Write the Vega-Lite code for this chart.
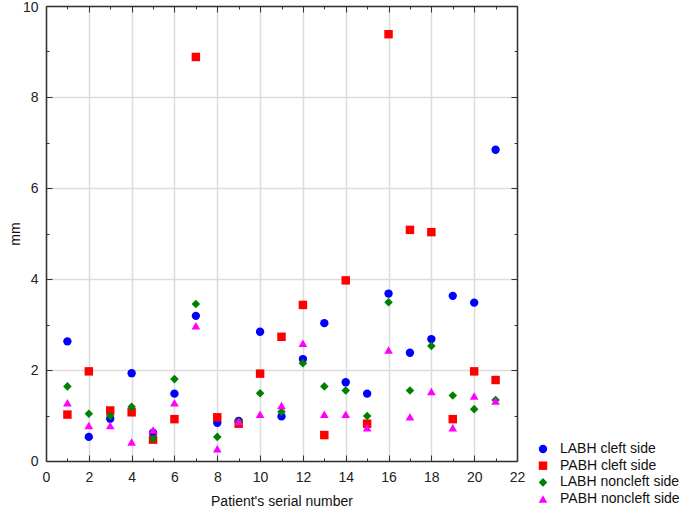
{
  "$schema": "https://vega.github.io/schema/vega-lite/v6.json",
  "width": 471,
  "height": 455,
  "autosize": {"type": "none"},
  "padding": {"left": 46, "top": 6, "right": 168, "bottom": 47},
  "background": "white",
  "config": {
    "view": {"stroke": null},
    "font": "Liberation Sans",
    "axis": {"labelFont": "Liberation Sans", "titleFont": "Liberation Sans", "labelFontSize": 14, "titleFontSize": 14, "titleFontWeight": "normal", "labelColor": "#222", "titleColor": "#111", "domainColor": "#333", "domainWidth": 1.5, "tickColor": "#333", "gridColor": "#dcdcdc", "gridWidth": 1.5}
  },
  "data": {"values": [
    {"n":1,"v":2.63,"s":"LABH cleft side"},{"n":2,"v":0.53,"s":"LABH cleft side"},{"n":3,"v":0.93,"s":"LABH cleft side"},{"n":4,"v":1.93,"s":"LABH cleft side"},{"n":5,"v":0.62,"s":"LABH cleft side"},{"n":6,"v":1.48,"s":"LABH cleft side"},{"n":7,"v":3.19,"s":"LABH cleft side"},{"n":8,"v":0.84,"s":"LABH cleft side"},{"n":9,"v":0.88,"s":"LABH cleft side"},{"n":10,"v":2.84,"s":"LABH cleft side"},{"n":11,"v":0.98,"s":"LABH cleft side"},{"n":12,"v":2.24,"s":"LABH cleft side"},{"n":13,"v":3.03,"s":"LABH cleft side"},{"n":14,"v":1.73,"s":"LABH cleft side"},{"n":15,"v":1.48,"s":"LABH cleft side"},{"n":16,"v":3.68,"s":"LABH cleft side"},{"n":17,"v":2.38,"s":"LABH cleft side"},{"n":18,"v":2.68,"s":"LABH cleft side"},{"n":19,"v":3.63,"s":"LABH cleft side"},{"n":20,"v":3.48,"s":"LABH cleft side"},{"n":21,"v":6.84,"s":"LABH cleft side"},
    {"n":1,"v":1.02,"s":"PABH cleft side"},{"n":2,"v":1.97,"s":"PABH cleft side"},{"n":3,"v":1.11,"s":"PABH cleft side"},{"n":4,"v":1.07,"s":"PABH cleft side"},{"n":5,"v":0.47,"s":"PABH cleft side"},{"n":6,"v":0.92,"s":"PABH cleft side"},{"n":7,"v":8.88,"s":"PABH cleft side"},{"n":8,"v":0.96,"s":"PABH cleft side"},{"n":9,"v":0.82,"s":"PABH cleft side"},{"n":10,"v":1.92,"s":"PABH cleft side"},{"n":11,"v":2.73,"s":"PABH cleft side"},{"n":12,"v":3.43,"s":"PABH cleft side"},{"n":13,"v":0.57,"s":"PABH cleft side"},{"n":14,"v":3.97,"s":"PABH cleft side"},{"n":15,"v":0.82,"s":"PABH cleft side"},{"n":16,"v":9.38,"s":"PABH cleft side"},{"n":17,"v":5.08,"s":"PABH cleft side"},{"n":18,"v":5.03,"s":"PABH cleft side"},{"n":19,"v":0.92,"s":"PABH cleft side"},{"n":20,"v":1.97,"s":"PABH cleft side"},{"n":21,"v":1.78,"s":"PABH cleft side"},
    {"n":1,"v":1.64,"s":"LABH noncleft side"},{"n":2,"v":1.04,"s":"LABH noncleft side"},{"n":3,"v":0.99,"s":"LABH noncleft side"},{"n":4,"v":1.19,"s":"LABH noncleft side"},{"n":5,"v":0.49,"s":"LABH noncleft side"},{"n":6,"v":1.8,"s":"LABH noncleft side"},{"n":7,"v":3.45,"s":"LABH noncleft side"},{"n":8,"v":0.53,"s":"LABH noncleft side"},{"n":9,"v":0.86,"s":"LABH noncleft side"},{"n":10,"v":1.49,"s":"LABH noncleft side"},{"n":11,"v":1.08,"s":"LABH noncleft side"},{"n":12,"v":2.15,"s":"LABH noncleft side"},{"n":13,"v":1.64,"s":"LABH noncleft side"},{"n":14,"v":1.55,"s":"LABH noncleft side"},{"n":15,"v":0.99,"s":"LABH noncleft side"},{"n":16,"v":3.49,"s":"LABH noncleft side"},{"n":17,"v":1.55,"s":"LABH noncleft side"},{"n":18,"v":2.53,"s":"LABH noncleft side"},{"n":19,"v":1.44,"s":"LABH noncleft side"},{"n":20,"v":1.14,"s":"LABH noncleft side"},{"n":21,"v":1.34,"s":"LABH noncleft side"},
    {"n":1,"v":1.28,"s":"PABH noncleft side"},{"n":2,"v":0.78,"s":"PABH noncleft side"},{"n":3,"v":0.78,"s":"PABH noncleft side"},{"n":4,"v":0.42,"s":"PABH noncleft side"},{"n":5,"v":0.68,"s":"PABH noncleft side"},{"n":6,"v":1.28,"s":"PABH noncleft side"},{"n":7,"v":2.97,"s":"PABH noncleft side"},{"n":8,"v":0.27,"s":"PABH noncleft side"},{"n":9,"v":0.87,"s":"PABH noncleft side"},{"n":10,"v":1.03,"s":"PABH noncleft side"},{"n":11,"v":1.22,"s":"PABH noncleft side"},{"n":12,"v":2.59,"s":"PABH noncleft side"},{"n":13,"v":1.03,"s":"PABH noncleft side"},{"n":14,"v":1.03,"s":"PABH noncleft side"},{"n":15,"v":0.73,"s":"PABH noncleft side"},{"n":16,"v":2.44,"s":"PABH noncleft side"},{"n":17,"v":0.97,"s":"PABH noncleft side"},{"n":18,"v":1.53,"s":"PABH noncleft side"},{"n":19,"v":0.73,"s":"PABH noncleft side"},{"n":20,"v":1.43,"s":"PABH noncleft side"},{"n":21,"v":1.32,"s":"PABH noncleft side"}
  ]},
  "layer": [
    {
      "mark": {"type": "point", "filled": true, "opacity": 1},
      "encoding": {
        "x": {"field": "n", "type": "quantitative", "title": "Patient's serial number",
          "scale": {"domain": [0, 22], "nice": false},
          "axis": {"orient": "bottom", "values": [0,1,2,3,4,5,6,7,8,9,10,11,12,13,14,15,16,17,18,19,20,21,22],
            "labelExpr": "datum.value % 2 === 0 ? datum.label : ''",
            "gridOpacity": {"condition": {"test": "datum.value % 2 === 0", "value": 1}, "value": 0},
            "tickSize": {"condition": {"test": "datum.value % 2 === 0", "value": -6}, "value": -3},
            "labelPadding": 15, "titlePadding": 10, "labelFlush": false}},
        "y": {"field": "v", "type": "quantitative", "title": "mm",
          "scale": {"domain": [0, 10], "nice": false},
          "axis": {"orient": "left", "values": [0,1,2,3,4,5,6,7,8,9,10],
            "labelExpr": "datum.value % 2 === 0 ? datum.label : ''",
            "gridOpacity": {"condition": {"test": "datum.value % 2 === 0", "value": 1}, "value": 0},
            "tickSize": {"condition": {"test": "datum.value % 2 === 0", "value": -6}, "value": -3},
            "labelOffset": {"condition": {"test": "datum.value === 10", "value": 1.5}, "value": 0},
            "labelPadding": 14, "titlePadding": 0, "labelFlush": false}},
        "color": {"field": "s", "type": "nominal", "title": null,
          "scale": {"domain": ["LABH cleft side","PABH cleft side","LABH noncleft side","PABH noncleft side"], "range": ["#0000ff","#ff0000","#008000","#ff00ff"]},
          "legend": {"orient": "none", "legendX": 490, "legendY": 436, "labelFont": "Liberation Sans", "labelFontSize": 14, "labelColor": "#111", "symbolSize": 40, "rowPadding": 2.7, "labelOffset": 10}},
        "shape": {"field": "s", "type": "nominal",
          "scale": {"domain": ["LABH cleft side","PABH cleft side","LABH noncleft side","PABH noncleft side"], "range": ["circle","square","diamond","triangle-up"]}},
        "size": {"field": "s", "type": "nominal", "legend": null,
          "scale": {"domain": ["LABH cleft side","PABH cleft side","LABH noncleft side","PABH noncleft side"], "range": [70, 75, 45, 55]}}
      }
    },
    {
      "mark": {"type": "point", "opacity": 0},
      "encoding": {
        "x": {"field": "n", "type": "quantitative",
          "scale": {"domain": [0, 22], "nice": false},
          "axis": {"orient": "top", "title": null, "labels": false, "grid": false, "values": [0,1,2,3,4,5,6,7,8,9,10,11,12,13,14,15,16,17,18,19,20,21,22],
            "tickSize": {"condition": {"test": "datum.value % 2 === 0", "value": -6}, "value": -3}}},
        "y": {"field": "v", "type": "quantitative",
          "scale": {"domain": [0, 10], "nice": false},
          "axis": {"orient": "right", "title": null, "labels": false, "grid": false, "values": [0,1,2,3,4,5,6,7,8,9,10],
            "tickSize": {"condition": {"test": "datum.value % 2 === 0", "value": -6}, "value": -3}}}
      }
    }
  ],
  "resolve": {"axis": {"x": "independent", "y": "independent"}}
}
